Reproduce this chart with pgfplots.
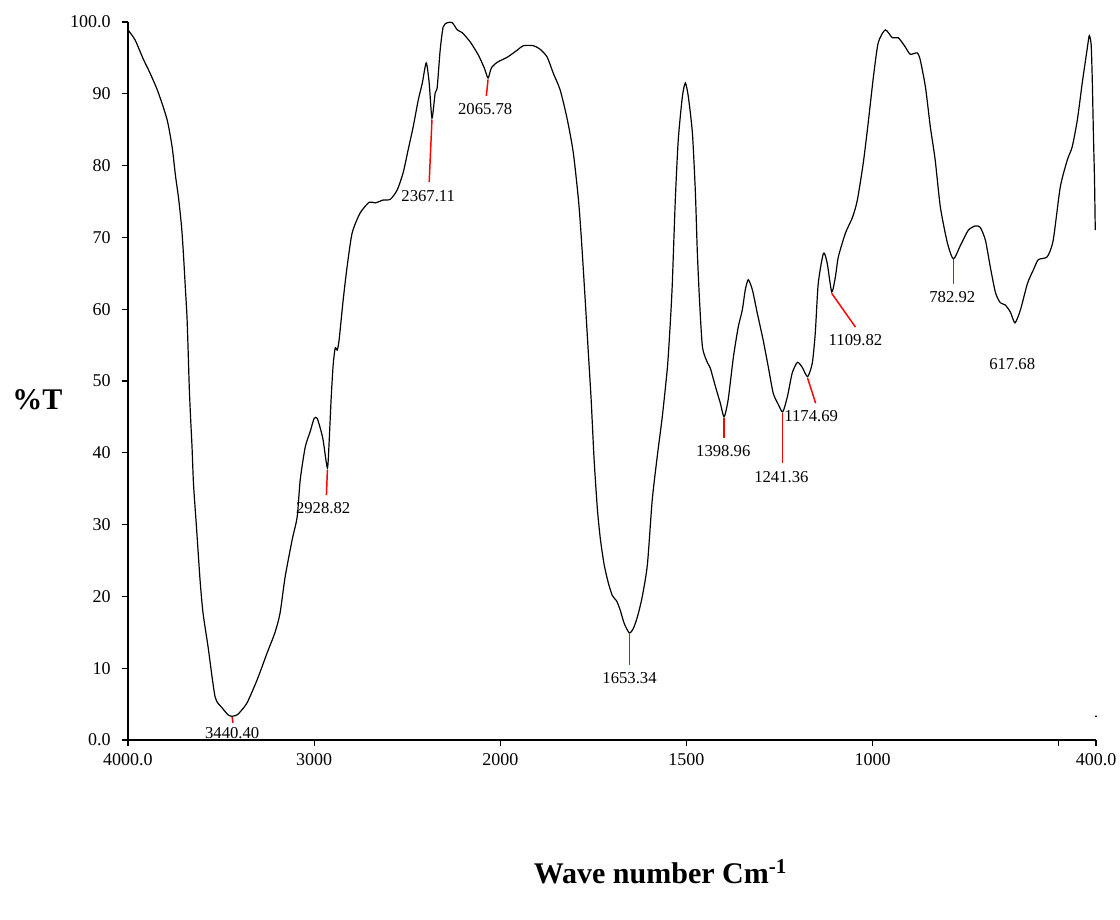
\documentclass[border=0pt]{standalone}
\usepackage{fontspec}
\setmainfont{Liberation Serif}
\usepackage{pgfplots}
\usepackage{pgfplotstable}
\pgfplotsset{compat=1.18}

% FTIR transmittance spectrum: wavenumber (cm^-1) and %T
\pgfplotstableread{
w T
4000 98.9
3962 97.5
3919 94.9
3882 92.9
3839 90.3
3790 86.4
3763 82.6
3745 78.6
3728 75.4
3712 71.4
3702 67.6
3692 63.0
3683 58.9
3677 54.3
3671 49.2
3664 45.0
3656 40.8
3648 35.6
3632 29.6
3613 22.3
3597 17.7
3570 13.0
3532 6.0
3495 4.5
3462 3.5
3440.4 3.3
3414 3.5
3398 3.9
3360 5.2
3306 8.4
3253 12.1
3210 15.0
3183 17.7
3156 22.7
3118 27.9
3091 31.1
3075 36.2
3048 40.8
3022 42.9
3000 44.8
2984 44.8
2968 43.5
2952 41.8
2928.82 37.9
2919 41.8
2909 47.4
2898 52.2
2887 54.6
2876 54.3
2866 55.7
2844 61.3
2823 65.9
2796 70.6
2753 73.4
2704 74.9
2672 74.8
2629 75.2
2591 75.3
2554 76.6
2522 79.0
2495 82.2
2468 85.4
2441 89.1
2419 91.5
2398 94.3
2382 91.5
2367.11 86.6
2350 90.1
2339 90.9
2323 96.1
2307 99.3
2285 99.9
2258 99.9
2231 98.9
2204 98.5
2161 97.2
2118 95.4
2086 93.6
2065.78 92.2
2048 93.6
2016 94.4
1981 95.1
1954 96.1
1938 96.7
1911 96.7
1893 96.2
1874 95.1
1858 92.9
1839 90.5
1820 86.4
1804 81.8
1790 75.2
1782 69.6
1772 61.3
1764 54.3
1756 47.4
1748 39.0
1739 32.0
1731 27.9
1721 24.4
1710 21.9
1699 20.1
1688 19.4
1678 18.1
1667 16.2
1653.34 14.9
1643 15.5
1632 17.1
1619 19.9
1605 24.4
1592 33.4
1578 39.7
1565 45.0
1551 52.0
1543 58.5
1538 63.6
1530 75.2
1522 83.6
1511 89.6
1503 91.5
1495 89.6
1484 84.5
1476 76.2
1471 68.2
1465 61.3
1457 54.7
1444 52.6
1436 51.8
1422 49.2
1409 46.9
1398.96 45.0
1388 47.4
1374 53.3
1361 57.5
1350 59.9
1342 62.7
1334 64.1
1323 62.7
1310 59.5
1294 55.7
1280 51.9
1267 48.3
1253 46.7
1241.36 45.7
1229 47.8
1216 51.1
1202 52.6
1189 51.9
1174.69 50.6
1162 52.5
1154 56.7
1146 63.6
1132 67.8
1122 66.4
1109.82 62.4
1100 64.5
1092 67.3
1073 70.6
1054 72.8
1041 75.2
1025 80.4
1012 85.9
998 92.3
985 97.1
966 98.9
947 97.8
931 97.8
912 96.5
899 95.5
880 95.7
872 94.7
858 90.9
845 85.4
832 80.8
818 74.2
799 69.2
782.92 67.0
764 68.9
743 71.0
724 71.6
711 71.4
697 69.6
684 65.9
670 62.3
657 60.9
644 60.6
630 59.6
617.68 58.1
603 59.9
584 63.6
568 65.5
555 66.9
531 67.3
515 69.6
496 77.0
477 80.8
464 82.6
450 86.4
437 91.5
423 96.5
418 98.1
413 96.8
410 91.9
407 84.5
404 78.0
402 71.0
}\spectrum

\begin{document}
\begin{tikzpicture}
\begin{axis}[
  scale only axis,
  width=726pt, height=538.5pt,
  % 4000-2000 cm^-1 at half scale, 2000-400 cm^-1 at full scale
  x coord trafo/.code={\pgfmathparse{ifthenelse(#1>2000,(4000-#1)/2,3000-#1)}},
  xmin=4000, xmax=400, ymin=0, ymax=100,
  axis x line*=bottom, axis y line*=left,
  axis line style={line width=0.9pt},
  tick align=outside,
  major tick length=4.5pt,
  tick style={black, line width=0.9pt},
  xtick={4000,3000,2000,1500,1000,500,400},
  xticklabels={4000.0,3000,2000,1500,1000,,400.0},
  ytick={0,10,20,30,40,50,60,70,80,90,100},
  yticklabels={0.0,10,20,30,40,50,60,70,80,90,100.0},
  tick label style={font=\fontsize{13.5}{15}\selectfont, black},
  xticklabel style={yshift=-2pt},
  yticklabel style={xshift=-5pt},
  clip=false,
]
\addplot[black, line width=0.9pt, smooth, tension=0.4] table[x=w, y=T] {\spectrum};
\addplot[only marks, mark=*, mark size=0.5pt, black] coordinates {(400,3.3)};

% peak markers
\addplot[red, line width=1.1pt] coordinates {(3440.4,3.2) (3436,2.4)};
\addplot[red, line width=1.1pt] coordinates {(2928.82,37.6) (2934,34.1)};
\addplot[red, line width=1.1pt] coordinates {(2367.11,86.4) (2382,77.7)};
\addplot[red, line width=1.1pt] coordinates {(2065.78,92.0) (2075,89.7)};
\addplot[red, line width=1.1pt] coordinates {(1653.34,14.7) (1653.34,10.5)};
\addplot[red, line width=1.1pt] coordinates {(1398.96,44.8) (1398.96,42.0)};
\addplot[red, line width=1.1pt] coordinates {(1241.36,45.5) (1241.36,38.6)};
\addplot[red, line width=1.1pt] coordinates {(1174.69,50.4) (1153,46.9)};
\addplot[red, line width=1.1pt] coordinates {(1109.82,62.2) (1046,57.5)};
\addplot[red, line width=1.1pt] coordinates {(782.92,66.8) (782.92,63.5)};

\begin{scope}[every node/.style={font=\fontsize{12.5}{14}\selectfont, inner sep=0pt}]
\node at (axis cs:3440,0.9) {3440.40};
\node at (axis cs:2952,32.3) {2928.82};
\node at (axis cs:2387,75.8) {2367.11};
\node at (axis cs:2081,87.9) {2065.78};
\node at (axis cs:1653,8.6) {1653.34};
\node at (axis cs:1401,40.3) {1398.96};
\node at (axis cs:1245,36.6) {1241.36};
\node at (axis cs:1165,45.1) {1174.69};
\node at (axis cs:1046,55.7) {1109.82};
\node at (axis cs:786,61.7) {782.92};
\node at (axis cs:625,52.4) {617.68};
\end{scope}

\node[font=\fontsize{22.5}{26}\selectfont\bfseries] at ([xshift=-68pt]rel axis cs:0,0.474) {\%T};
\node[font=\fontsize{22.5}{26}\selectfont\bfseries] at ([yshift=-99pt]rel axis cs:0.55,0) {Wave number Cm\textsuperscript{-1}};

\coordinate (O) at (rel axis cs:0,0);
\end{axis}
\pgfresetboundingbox
\path ([shift={(-96pt,-135pt)}]O) rectangle ([shift={(744pt,555pt)}]O);
\end{tikzpicture}
\end{document}
